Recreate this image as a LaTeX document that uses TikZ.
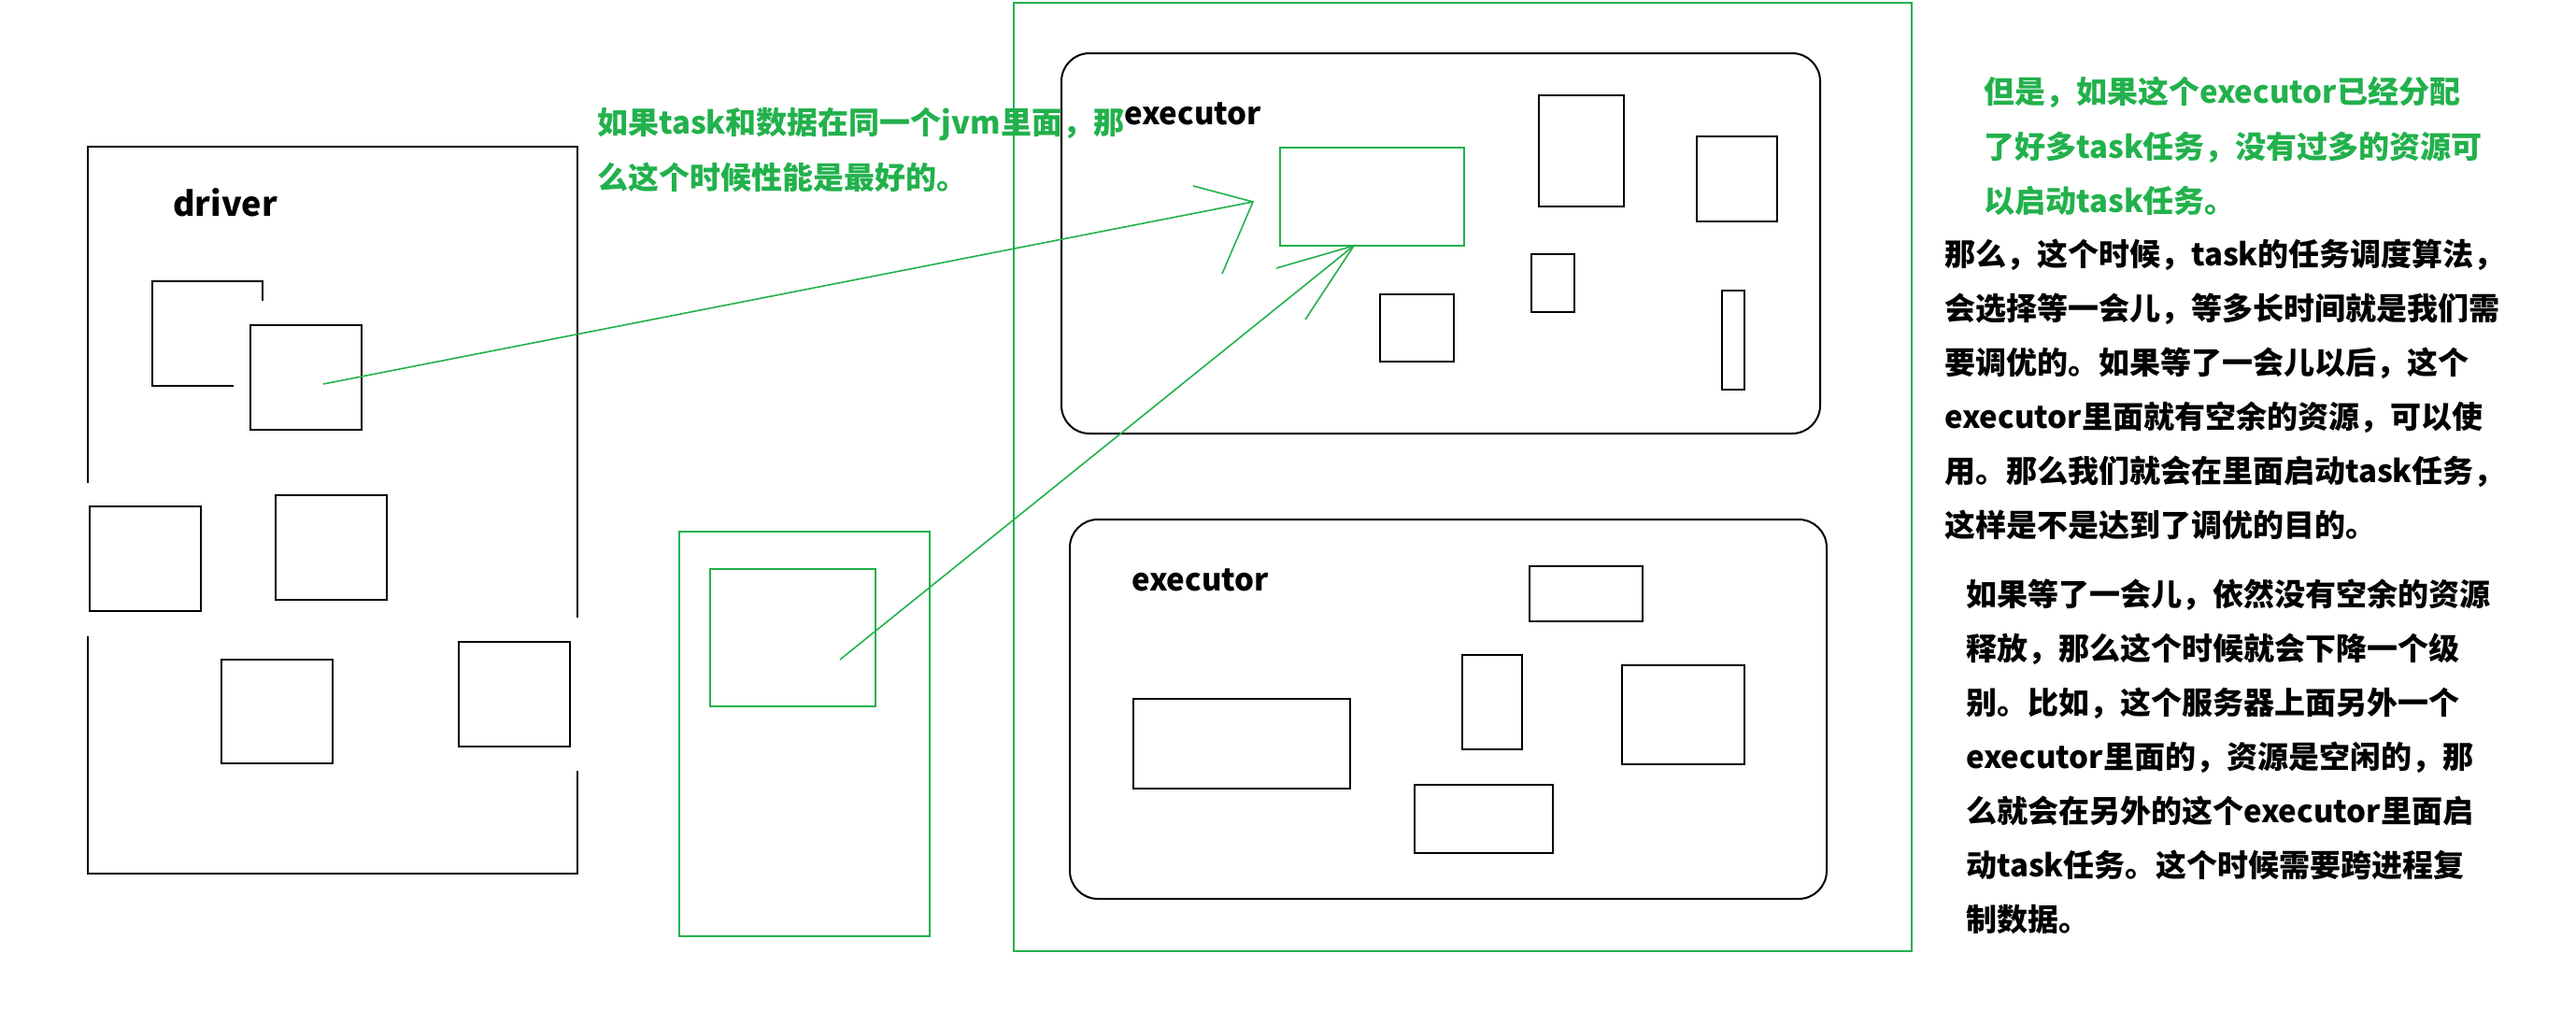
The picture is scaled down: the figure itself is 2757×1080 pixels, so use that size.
\documentclass[tikz,border=0pt]{standalone}
\usepackage{fontspec}
\newfontfamily\cjk{Noto Sans CJK SC}
\definecolor{pgreen}{RGB}{34,177,76}
\begin{document}
\begin{tikzpicture}[x=1pt,y=-1pt,
  blk/.style={draw=black,line width=2pt},
  grn/.style={draw=pgreen,line width=2pt},
  garrow/.style={draw=pgreen,line width=1.6pt},
  txt/.style={inner sep=0pt,anchor=base west,font=\cjk\bfseries\fontsize{33}{40}\selectfont},
  gtxt/.style={txt,text=pgreen}]
\useasboundingbox[fill=white] (0,0) rectangle (2757,1080);

% ---------- driver ----------
\draw[blk] (94,517) -- (94,157) -- (618,157) -- (618,661);
\draw[blk] (618,825) -- (618,935) -- (94,935) -- (94,681);
\node[txt,font=\cjk\bfseries\fontsize{36}{40}\selectfont] (driver) at (185,231) {driver};
\draw[blk] (250,413) -- (163,413) -- (163,301) -- (281,301) -- (281,322);
\draw[blk] (268,348) rectangle (387,460);
\draw[blk] (96,542) rectangle (215,654);
\draw[blk] (295,530) rectangle (414,642);
\draw[blk] (237,706) rectangle (356,817);
\draw[blk] (491,687) rectangle (610,799);

% ---------- data node ----------
\draw[grn] (727,569) rectangle (995,1002);
\draw[grn] (760,609) rectangle (937,756);

% ---------- worker (outer green) ----------
\draw[grn] (1085,3) rectangle (2046,1018);

% executor 1
\draw[blk,rounded corners=30pt] (1136,57) rectangle (1948,464);
\node[txt] (ex1) at (1203,133) {executor};
\draw[grn] (1370,158) rectangle (1567,263);
\draw[blk] (1647,102) rectangle (1738,221);
\draw[blk] (1816,146) rectangle (1902,237);
\draw[blk] (1639,272) rectangle (1685,334);
\draw[blk] (1477,315) rectangle (1556,387);
\draw[blk] (1843,311) rectangle (1867,417);

% executor 2
\draw[blk,rounded corners=30pt] (1145,556) rectangle (1955,962);
\node[txt] (ex2) at (1211,632) {executor};
\draw[blk] (1637,606) rectangle (1758,665);
\draw[blk] (1565,701) rectangle (1629,802);
\draw[blk] (1736,712) rectangle (1867,818);
\draw[blk] (1213,748) rectangle (1445,844);
\draw[blk] (1514,840) rectangle (1662,913);

% ---------- arrows ----------
\coordinate (a1s) at (346,411);
\coordinate (a1t) at (1341,216);
\coordinate (a1b1) at (1277,199);
\coordinate (a1b2) at (1308,293);
\draw[garrow] (a1s) -- (a1t);
\draw[garrow] (a1b1) -- (a1t) -- (a1b2);
\coordinate (a2s) at (899,706);
\coordinate (a2t) at (1449,263);
\coordinate (a2b1) at (1366,287);
\coordinate (a2b2) at (1397,342);
\draw[garrow] (a2s) -- (a2t);
\draw[garrow] (a2b1) -- (a2t) -- (a2b2);

% ---------- texts ----------
\node[gtxt] (g1) at (639,143) {如果task和数据在同一个jvm里面，那};
\node[gtxt] (g2) at (639,202) {么这个时候性能是最好的。};

\node[gtxt] (r1) at (2123,110) {但是，如果这个executor已经分配};
\node[gtxt] (r2) at (2123,169) {了好多task任务，没有过多的资源可};
\node[gtxt] (r3) at (2123,227) {以启动task任务。};

\node[txt] (b1) at (2081,284) {那么，这个时候，task的任务调度算法，};
\node[txt] (b2) at (2081,342) {会选择等一会儿，等多长时间就是我们需};
\node[txt] (b3) at (2081,400) {要调优的。如果等了一会儿以后，这个};
\node[txt] (b4) at (2081,458) {executor里面就有空余的资源，可以使};
\node[txt] (b5) at (2081,516) {用。那么我们就会在里面启动task任务，};
\node[txt] (b6) at (2081,574) {这样是不是达到了调优的目的。};

\node[txt] (c1) at (2104,648) {如果等了一会儿，依然没有空余的资源};
\node[txt] (c2) at (2104,706) {释放，那么这个时候就会下降一个级};
\node[txt] (c3) at (2104,764) {别。比如，这个服务器上面另外一个};
\node[txt] (c4) at (2104,822) {executor里面的，资源是空闲的，那};
\node[txt] (c5) at (2104,880) {么就会在另外的这个executor里面启};
\node[txt] (c6) at (2104,938) {动task任务。这个时候需要跨进程复};
\node[txt] (c7) at (2104,996) {制数据。};
\end{tikzpicture}
\end{document}
